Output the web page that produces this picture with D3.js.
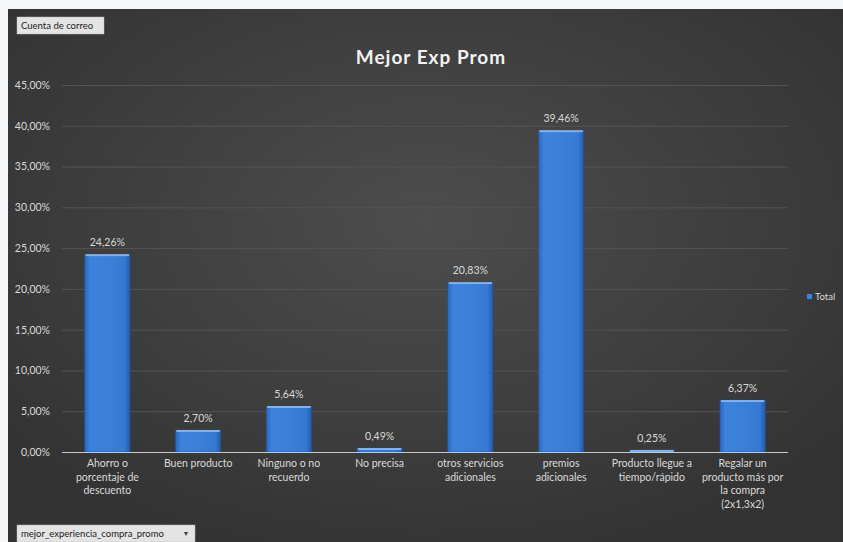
<!DOCTYPE html>
<html>
<head>
<meta charset="utf-8">
<script src="https://cdn.jsdelivr.net/npm/d3@7/dist/d3.min.js"></script>
<style>
  html, body { margin: 0; padding: 0; background: #f6f7f8; }
  svg { display: block; }
  text { font-family: Lato, "Open Sans", sans-serif; }
</style>
</head>
<body>
<svg id="chart" width="843" height="542"></svg>
<script>
// Share of e-mail accounts by best promotional-purchase experience
const categories = [
  "Ahorro o porcentaje de descuento",
  "Buen producto",
  "Ninguno o no recuerdo",
  "No precisa",
  "otros servicios adicionales",
  "premios adicionales",
  "Producto llegue a tiempo/rápido",
  "Regalar un producto más por la compra (2x1,3x2)"
];
const values = [24.26, 2.70, 5.64, 0.49, 20.83, 39.46, 0.25, 6.37];
const yTicks = [0, 5, 10, 15, 20, 25, 30, 35, 40, 45];
const title = "Mejor Exp Prom";
const seriesName = "Total";
const valueFieldButton = "Cuenta de correo";
const axisFieldButton = "mejor_experiencia_compra_promo";

const svg = d3.select("#chart");
const W = 843, H = 542;
const margin = { left: 62, right: 55, top: 85, bottom: 90 };
const fmt = v => v.toFixed(2).replace(".", ",") + "%";

const defs = svg.append("defs");
const bg = defs.append("radialGradient").attr("id", "bg")
  .attr("cx", "50%").attr("cy", "40%").attr("r", "65%");
bg.append("stop").attr("offset", "0%").attr("stop-color", "#4d4d4d");
bg.append("stop").attr("offset", "100%").attr("stop-color", "#333333");

const barGrad = defs.append("linearGradient").attr("id", "bar")
  .attr("x1", "0").attr("x2", "1").attr("y1", "0").attr("y2", "0");
barGrad.append("stop").attr("offset", "0%").attr("stop-color", "#2a66be");
barGrad.append("stop").attr("offset", "12%").attr("stop-color", "#3d82dc");
barGrad.append("stop").attr("offset", "50%").attr("stop-color", "#3a7fd9");
barGrad.append("stop").attr("offset", "88%").attr("stop-color", "#3679d2");
barGrad.append("stop").attr("offset", "100%").attr("stop-color", "#2559a8");

// chart area
svg.append("rect").attr("x", 8).attr("y", 9).attr("width", W - 8).attr("height", H - 9)
  .attr("fill", "url(#bg)");

const x = d3.scaleBand().domain(categories)
  .range([margin.left, 788]).paddingInner(0.5).paddingOuter(0.25);
const y = d3.scaleLinear().domain([0, 45]).range([452, 85]);

// gridlines
svg.append("g").selectAll("line").data(yTicks.filter(t => t > 0)).join("line")
  .attr("x1", margin.left).attr("x2", 788)
  .attr("y1", d => y(d) + 0.5).attr("y2", d => y(d) + 0.5)
  .attr("stroke", "#545454").attr("stroke-width", 1);

// y axis labels
const yAxis = d3.axisLeft(y).tickValues(yTicks).tickFormat(fmt).tickSize(0).tickPadding(0);
const gy = svg.append("g").attr("transform", "translate(50,0)").call(yAxis);
gy.select(".domain").remove();
gy.selectAll("text").attr("fill", "#d9d9d9").attr("font-size", 10.5);

// bars
svg.append("g").selectAll("rect").data(values).join("rect")
  .attr("x", (d, i) => x(categories[i]))
  .attr("width", x.bandwidth())
  .attr("y", d => y(d))
  .attr("height", d => y(0) - y(d))
  .attr("fill", "url(#bar)")
  .attr("stroke", "#26508f").attr("stroke-width", 0.6);

// top highlight of each bar
svg.append("g").selectAll("rect").data(values).join("rect")
  .attr("x", (d, i) => x(categories[i]) + 1)
  .attr("width", x.bandwidth() - 2)
  .attr("y", d => y(d))
  .attr("height", d => Math.min(2, y(0) - y(d)))
  .attr("fill", "#7fb2f0");

// value labels
svg.append("g").selectAll("text").data(values).join("text")
  .attr("x", (d, i) => x(categories[i]) + x.bandwidth() / 2)
  .attr("y", d => y(d) - 8)
  .attr("text-anchor", "middle")
  .attr("fill", "#d9d9d9").attr("font-size", 10.5)
  .text(d => fmt(d));

// x axis line
svg.append("line").attr("x1", margin.left).attr("x2", 788)
  .attr("y1", y(0) + 0.5).attr("y2", y(0) + 0.5)
  .attr("stroke", "#c8c8c8").attr("stroke-width", 1.2);

// category labels, wrapped to the band
const xAxis = d3.axisBottom(x).tickSize(0).tickPadding(0);
const gx = svg.append("g").attr("transform", `translate(0,${y(0) + 15})`).call(xAxis);
gx.select(".domain").remove();
gx.selectAll("text").attr("fill", "#d9d9d9").attr("font-size", 10.5).attr("dy", 0)
  .each(function (d) {
    const t = d3.select(this);
    const words = d.split(" ");
    t.text(null);
    let line = [];
    let tspan = t.append("tspan").attr("x", 0).attr("dy", 0);
    for (const w of words) {
      line.push(w);
      tspan.text(line.join(" "));
      if (tspan.node().getComputedTextLength() > 84 && line.length > 1) {
        line.pop();
        tspan.text(line.join(" "));
        line = [w];
        tspan = t.append("tspan").attr("x", 0).attr("dy", 13.5).text(w);
      }
    }
  });

// title
svg.append("text").attr("x", 431).attr("y", 64).attr("text-anchor", "middle")
  .attr("fill", "#f2f2f2").attr("font-size", 19).attr("font-weight", "bold")
  .attr("letter-spacing", 1)
  .text(title);

// legend
svg.append("rect").attr("x", 807).attr("y", 294).attr("width", 5).attr("height", 5)
  .attr("fill", "#3d82dc");
svg.append("text").attr("x", 815).attr("y", 300).attr("fill", "#d9d9d9")
  .attr("font-size", 9.5).text(seriesName);

// pivot field buttons
svg.append("rect").attr("x", 17).attr("y", 17).attr("width", 87).attr("height", 17)
  .attr("fill", "#e4e4e4").attr("stroke", "#bdbdbd").attr("stroke-width", 0.5);
svg.append("text").attr("x", 21).attr("y", 29).attr("fill", "#222")
  .attr("font-size", 9.5).text(valueFieldButton);

svg.append("rect").attr("x", 17).attr("y", 525).attr("width", 178).attr("height", 17)
  .attr("fill", "#e4e4e4").attr("stroke", "#bdbdbd").attr("stroke-width", 0.5);
svg.append("text").attr("x", 21).attr("y", 537).attr("fill", "#222")
  .attr("font-size", 9.5).text(axisFieldButton);
svg.append("text").attr("x", 186).attr("y", 536).attr("text-anchor", "middle")
  .attr("fill", "#444").attr("font-size", 7).text("▼");
</script>
</body>
</html>
